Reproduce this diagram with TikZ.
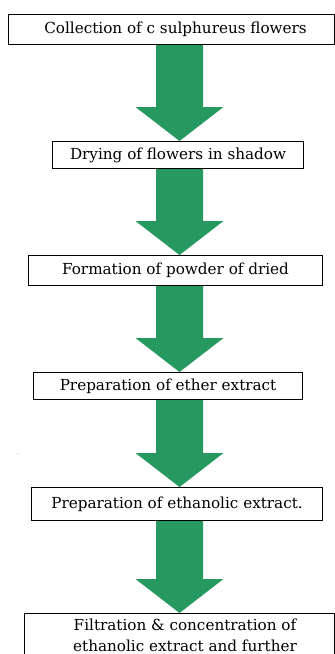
\documentclass[tikz,border=0pt]{standalone}
\usepackage{fontspec}
\setmainfont{DejaVu Serif}
\usetikzlibrary{calc,backgrounds}
\definecolor{arrowgreen}{RGB}{38,153,96}
\tikzset{
  boxfont/.style={font=\fontsize{15.2}{21}\selectfont},
  stepbox/.style={draw=black, line width=1.1pt, fill=white, rectangle, anchor=north west,
    inner sep=0pt, boxfont, align=center},
  blockarrow/.style={fill=arrowgreen, draw=none}
}
\newcommand\flowarrow[2]{%
  \fill[blockarrow]
    ($(#1.south -| axis)+(-23.5,0)$) -- ($(#1.south -| axis)+(23.5,0)$)
    -- ($(#2.north -| axis)+(23.5,-34)$) -- ($(#2.north -| axis)+(44,-34)$)
    -- (#2.north -| axis)
    -- ($(#2.north -| axis)+(-44,-34)$) -- ($(#2.north -| axis)+(-23.5,-34)$) -- cycle;}
\begin{document}
\begin{tikzpicture}[x=1pt,y=-1pt]
\useasboundingbox (0,0) rectangle (335,654);
\coordinate (axis) at (179.5,0);
\node[stepbox, minimum width=326pt, minimum height=30pt] (b1) at (8,14) {\hspace*{8pt}Collection of c sulphureus flowers};
\node[stepbox, minimum width=251pt, minimum height=27pt] (b2) at (52,141) {Drying of flowers in shadow};
\node[stepbox, minimum width=294pt, minimum height=30pt] (b3) at (28,255) {Formation of powder of dried};
\node[stepbox, minimum width=269pt, minimum height=27pt] (b4) at (33,372) {Preparation of ether extract};
\node[stepbox, minimum width=291pt, minimum height=33pt] (b5) at (31,487) {Preparation of ethanolic extract.};
\node[stepbox, minimum width=310pt, minimum height=60pt] (b6) at (24,613) {};
\node[boxfont, align=center, anchor=north, inner sep=0pt] (b6t) at (185,619) {Filtration \& concentration of\\ethanolic extract and further};
\node[font=\fontsize{5}{6}\selectfont, inner sep=0pt] (dot) at (18,454) {.};
\begin{scope}[on background layer]
\flowarrow{b1}{b2}
\flowarrow{b2}{b3}
\flowarrow{b3}{b4}
\flowarrow{b4}{b5}
\flowarrow{b5}{b6}
\end{scope}
\end{tikzpicture}
\end{document}
